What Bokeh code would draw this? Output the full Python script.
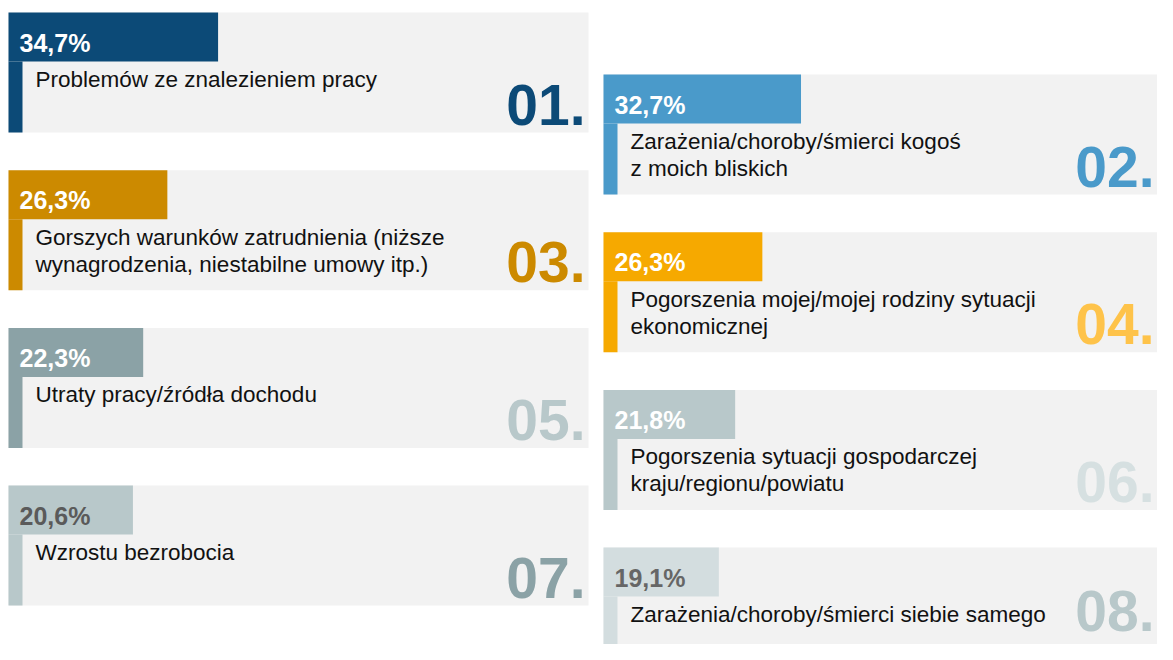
from bokeh.plotting import figure
from bokeh.models import Range1d, ColumnDataSource
from bokeh.core.properties import value
from bokeh.embed import file_html
from bokeh.resources import INLINE

# ---- data ----
ranks = ["01.", "02.", "03.", "04.", "05.", "06.", "07.", "08."]
percents = [34.7, 32.7, 26.3, 26.3, 22.3, 21.8, 20.6, 19.1]
labels = [
    "Problemów ze znalezieniem pracy",
    "Zarażenia/choroby/śmierci kogoś\nz moich bliskich",
    "Gorszych warunków zatrudnienia (niższe\nwynagrodzenia, niestabilne umowy itp.)",
    "Pogorszenia mojej/mojej rodziny sytuacji\nekonomicznej",
    "Utraty pracy/źródła dochodu",
    "Pogorszenia sytuacji gospodarczej\nkraju/regionu/powiatu",
    "Wzrostu bezrobocia",
    "Zarażenia/choroby/śmierci siebie samego",
]
header_colors = ["#0C4A77", "#4A9ACA", "#CC8A00", "#F6A900",
                 "#8BA2A6", "#B8C8CA", "#B8C8CA", "#D3DDDF"]
pct_colors = ["#FFFFFF", "#FFFFFF", "#FFFFFF", "#FFFFFF",
              "#FFFFFF", "#FFFFFF", "#5A5A5A", "#666666"]
num_colors = ["#0C4A77", "#4A9ACA", "#CC8A00", "#FEC34A",
              "#B8C8CA", "#D6E0E1", "#8BA2A6", "#B8C8CA"]

W, H = 1157, 644
CARD_W, CARD_H = 580, 120
HEAD_H = 49
STRIPE_W = 14
PX_PER_PCT = 6.04
COL_X = [8, 603]
COL_Y = [12, 74]
ROW_STEP = 157.7

FONT = "Liberation Sans, Arial, sans-serif"

p = figure(width=W, height=H, output_backend="svg", toolbar_location=None,
           x_range=Range1d(0, W), y_range=Range1d(H, 0),
           min_border=0, border_fill_color="white", background_fill_color="white")
p.axis.visible = False
p.grid.visible = False
p.outline_line_color = None

x0s, tops = [], []
for i in range(len(ranks)):
    col, row = i % 2, i // 2
    x0s.append(COL_X[col])
    tops.append(COL_Y[col] + row * ROW_STEP)

cards = ColumnDataSource(dict(
    left=x0s,
    right=[x + CARD_W for x in x0s],
    top=tops,
    bottom=[t + CARD_H for t in tops],
    head_right=[x + v * PX_PER_PCT for x, v in zip(x0s, percents)],
    head_bottom=[t + HEAD_H for t in tops],
    stripe_right=[x + STRIPE_W for x in x0s],
    color=header_colors,
    pct_text=[f"{v:.1f}%".replace(".", ",") for v in percents],
    pct_x=[x + 11 for x in x0s],
    pct_y=[t + 30 for t in tops],
    pct_color=pct_colors,
    num=ranks,
    num_x=[min(x + CARD_W - 3, W - 3) for x in x0s],
    num_y=[min(t + 92, H - 34) for t in tops],
    num_color=num_colors,
))

# card background
p.quad(left="left", right="right", top="top", bottom="bottom", source=cards,
       fill_color="#F2F2F2", line_color=None)
# header bar (width proportional to value)
p.quad(left="left", right="head_right", top="top", bottom="head_bottom", source=cards,
       fill_color="color", line_color=None)
# left stripe
p.quad(left="left", right="stripe_right", top="head_bottom", bottom="bottom", source=cards,
       fill_color="color", line_color=None)

# big rank numbers
p.text(x="num_x", y="num_y", text="num", source=cards, text_color="num_color",
       text_font=value(FONT), text_font_style="bold", text_font_size="57px",
       text_align="right", text_baseline="middle")

# percentages
p.text(x="pct_x", y="pct_y", text="pct_text", source=cards, text_color="pct_color",
       text_font=value(FONT), text_font_style="bold", text_font_size="25px",
       text_align="left", text_baseline="middle")

# labels (split into lines)
lx, ly, lt = [], [], []
for i, lab in enumerate(labels):
    for j, line in enumerate(lab.split("\n")):
        lx.append(x0s[i] + 27)
        ly.append(tops[i] + 67 + j * 27)
        lt.append(line)
p.text(x=lx, y=ly, text=lt, text_color="#111111",
       text_font=value(FONT), text_font_size="22.5px",
       text_align="left", text_baseline="middle")

open("out.html", "w").write(file_html(p, INLINE))
